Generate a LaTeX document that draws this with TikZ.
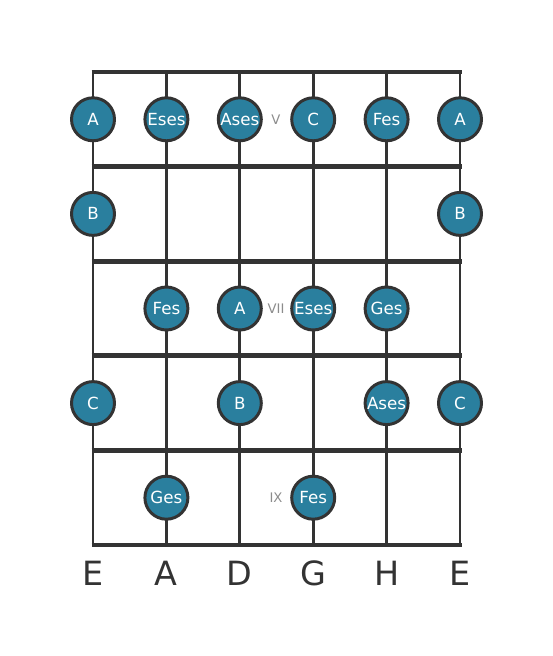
\documentclass[tikz,border=0pt]{standalone}
\usepackage{fontspec}
\setmainfont{DejaVu Sans}
\usepackage{xcolor}
\usetikzlibrary{positioning, calc}

\definecolor{dotfill}{RGB}{42,127,158}
\definecolor{wire}{RGB}{51,51,51}
\definecolor{fretnum}{RGB}{140,140,140}

\tikzset{
    note/.style={circle, draw=wire, line width=1.7pt, fill=dotfill, minimum size=0.86cm,
        inner sep=0pt, text=white, font=\fontsize{9.5}{9.5}\selectfont},
    fretlabel/.style={text=fretnum, font=\fontsize{7.5}{7.5}\selectfont},
    openstring/.style={text=wire, font=\fontsize{19}{19}\selectfont}
}

\begin{document}
\begin{tikzpicture}[x=0.02cm, y=-0.02cm]
\useasboundingbox (0,0) rectangle (553,656);

% Strings
\foreach \s in {93,166.4,239.8,313.2,386.6,460} {
    \draw[wire, line width=1.7pt] (\s,72) -- (\s,545);
}

% Frets
\foreach \f in {72,166.6,261.2,355.8,450.4,545} {
    \draw[wire, line width=2.8pt] (91.5,\f) -- (461.5,\f);
}

% Fret numbers
\node[fretlabel] (fV) at (276,119.3) {V};
\node[fretlabel] (fVII) at (276,308.5) {VII};
\node[fretlabel] (fIX) at (276,497.7) {IX};

% Fret 5
\node[note] (a1) at (93,119.3) {A};
\node[note] (a2) at (166.4,119.3) {Eses};
\node[note] (a3) at (239.8,119.3) {Ases};
\node[note] (a4) at (313.2,119.3) {C};
\node[note] (a5) at (386.6,119.3) {Fes};
\node[note] (a6) at (460,119.3) {A};

% Fret 6
\node[note] (b1) at (93,213.9) {B};
\node[note] (b6) at (460,213.9) {B};

% Fret 7
\node[note] (c2) at (166.4,308.5) {Fes};
\node[note] (c3) at (239.8,308.5) {A};
\node[note] (c4) at (313.2,308.5) {Eses};
\node[note] (c5) at (386.6,308.5) {Ges};

% Fret 8
\node[note] (d1) at (93,403.1) {C};
\node[note] (d3) at (239.8,403.1) {B};
\node[note] (d5) at (386.6,403.1) {Ases};
\node[note] (d6) at (460,403.1) {C};

% Fret 9
\node[note] (e2) at (166.4,497.7) {Ges};
\node[note] (e4) at (313.2,497.7) {Fes};

% Open strings
\foreach \s/\n [count=\i] in {93/E,166.4/A,239.8/D,313.2/G,386.6/H,460/E} {
    \node[openstring] (open\i) at (\s,573) {\n};
}
\end{tikzpicture}
\end{document}
